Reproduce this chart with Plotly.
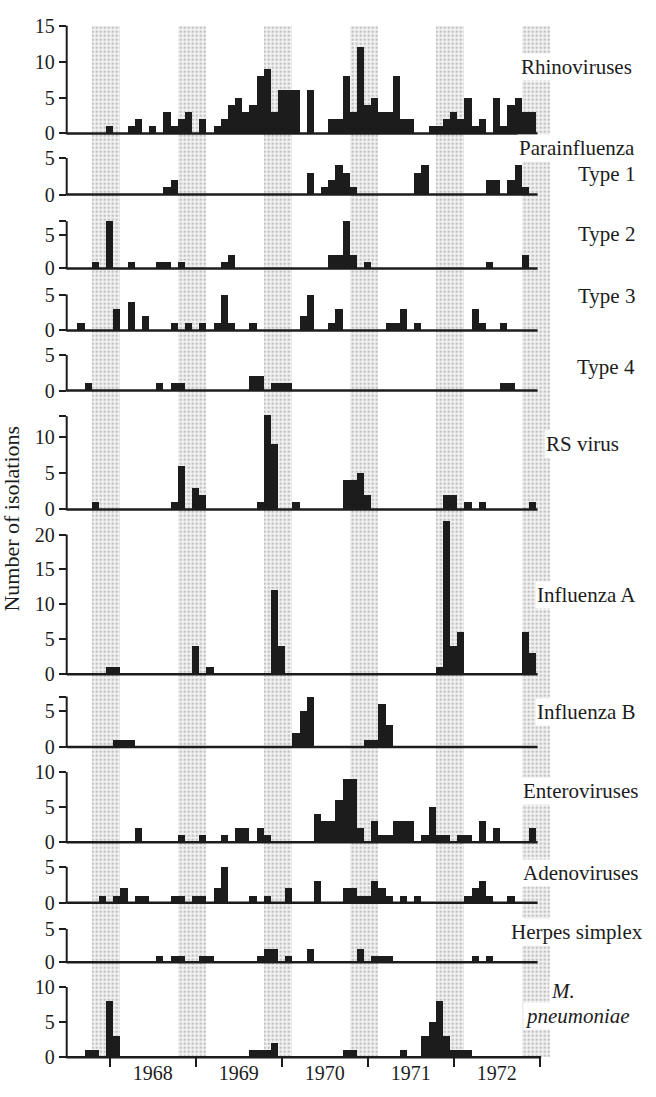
import plotly.graph_objects as go

W, H = 656, 1097

# month index: 0 = January 1968 ; series run from July 1967 (-6) to December 1972 (59)
months = list(range(-6, 60))
year_ticks = [0, 12, 24, 36, 48, 60]
year_label_pos = [6, 18, 30, 42, 54]
year_labels = ['1968', '1969', '1970', '1971', '1972']
winter_centres = [-0.5, 11.5, 23.5, 35.5, 47.5, 59.5]   # Nov-Feb periods (shaded)

#                Jul-Dec 67          1968                         1969                        1970                         1971                        1972
rhinoviruses = [0,0,0,0,0,0,  1,0,0,1,2,0,1,0,3,1,2,3,  0,2,0,1,2,4,5,3,4,8,9,3,  6,6,6,0,6,0,0,2,2,8,3,12, 4,5,3,3,8,2,2,0,0,1,1,2,  3,2,5,1,2,0,5,1,4,5,3,3]
para_type1   = [0,0,0,0,0,0,  0,0,0,0,0,0,0,0,1,2,0,0,  0,0,0,0,0,0,0,0,0,0,0,0,  0,0,0,0,3,0,1,2,4,3,1,0,  0,0,0,0,0,0,0,3,4,0,0,0,  0,0,0,0,0,2,2,0,2,4,1,0]
para_type2   = [0,0,0,0,1,0,  7,0,0,1,0,0,0,1,1,0,1,0,  0,0,0,0,1,2,0,0,0,0,0,0,  0,0,0,0,0,0,0,2,2,7,2,0,  1,0,0,0,0,0,0,0,0,0,0,0,  0,0,0,0,0,1,0,0,0,0,2,0]
para_type3   = [0,0,1,0,0,0,  0,3,0,4,0,2,0,0,0,1,0,1,  0,1,0,1,5,1,0,0,1,0,0,0,  0,0,0,2,5,0,0,1,3,0,0,0,  0,0,0,1,1,3,0,1,0,0,0,0,  0,0,0,3,1,0,0,1,0,0,0,0]
para_type4   = [0,0,0,1,0,0,  0,0,0,0,0,0,0,1,0,1,1,0,  0,0,0,0,0,0,0,0,2,2,0,1,  1,1,0,0,0,0,0,0,0,0,0,0,  0,0,0,0,0,0,0,0,0,0,0,0,  0,0,0,0,0,0,0,1,1,0,0,0]
rs_virus     = [0,0,0,0,1,0,  0,0,0,0,0,0,0,0,0,1,6,0,  3,2,0,0,0,0,0,0,0,1,13,9, 0,0,1,0,0,0,0,0,0,4,4,5,  2,0,0,0,0,0,0,0,0,0,0,2,  2,0,1,0,1,0,0,0,0,0,0,1]
influenza_a  = [0,0,0,0,0,0,  1,1,0,0,0,0,0,0,0,0,0,0,  4,0,1,0,0,0,0,0,0,0,0,12, 4,0,0,0,0,0,0,0,0,0,0,0,  0,0,0,0,0,0,0,0,0,0,1,22, 4,6,0,0,0,0,0,0,0,0,6,3]
influenza_b  = [0,0,0,0,0,0,  0,1,1,1,0,0,0,0,0,0,0,0,  0,0,0,0,0,0,0,0,0,0,0,0,  0,0,2,5,7,0,0,0,0,0,0,0,  1,1,6,3,0,0,0,0,0,0,0,0,  0,0,0,0,0,0,0,0,0,0,0,0]
enteroviruses= [0,0,0,0,0,0,  0,0,0,0,2,0,0,0,0,0,1,0,  0,1,0,0,1,0,2,2,0,2,1,0,  0,0,0,0,0,4,3,3,6,9,9,2,  0,3,1,1,3,3,3,0,1,5,1,1,  0,1,1,0,3,0,2,0,0,0,0,2]
adenoviruses = [0,0,0,0,0,1,  0,1,2,0,1,1,0,0,0,1,1,0,  1,1,0,2,5,0,0,0,1,0,1,0,  0,2,0,0,0,3,0,0,0,2,2,1,  1,3,2,1,0,1,0,1,0,0,0,0,  0,0,1,2,3,1,0,0,1,0,0,0]
herpes       = [0,0,0,0,0,0,  0,0,0,0,0,0,0,1,0,1,1,0,  0,1,1,0,0,0,0,0,0,1,2,2,  0,1,0,0,2,0,0,0,0,0,0,2,  0,1,1,1,0,0,0,0,0,0,0,0,  0,0,0,1,0,1,0,0,0,0,0,0]
m_pneumoniae = [0,0,0,1,1,0,  8,3,0,0,0,0,0,0,0,0,0,0,  0,0,0,0,0,0,0,0,1,1,1,2,  0,0,0,0,0,0,0,0,0,1,1,0,  0,0,0,0,0,1,0,0,3,5,8,3,  1,1,1,0,0,0,0,0,0,0,0,0]

# panel geometry: baseline pixel, pixels per unit, axis top value, tick values
panels = [
    (rhinoviruses,  125.0, 7.33, 15, [0, 5, 10, 15]),
    (para_type1,    187.3, 7.46, 5,  [0, 5]),
    (para_type2,    262.7, 6.88, 7,  [0, 5, 7]),
    (para_type3,    326.0, 7.34, 5,  [0, 5]),
    (para_type4,    387.3, 7.26, 5,  [0, 5]),
    (rs_virus,      508.7, 7.44, 12.8, [0, 5, 10, 12.8]),
    (influenza_a,   676.7, 7.12, 20, [0, 5, 10, 15, 20]),
    (influenza_b,   751.0, 7.34, 7,  [0, 5, 7]),
    (enteroviruses, 848.3, 7.16, 10, [0, 5, 10]),
    (adenoviruses,  910.0, 7.34, 5,  [0, 5]),
    (herpes,        970.7, 6.80, 5,  [0, 5]),
    (m_pneumoniae, 1067.7, 7.17, 10, [0, 5, 10]),
]

labels = [
    ('Rhinoviruses', 57, 634), ('Parainfluenza', 140, 637), ('Type 1', 166, 637),
    ('Type 2', 228, 637), ('Type 3', 291, 637), ('Type 4', 363, 637),
    ('RS virus', 442, 621), ('Influenza A', 596, 638), ('Influenza B', 715, 638),
    ('Enteroviruses', 796, 640), ('Adenoviruses', 880, 640), ('Herpes simplex', 940, 645),
    ('<i>M.</i>', 1000, 577), ('<i>pneumoniae</i>', 1026, 632),
]

FONT = 'Liberation Serif'
INK = '#1c1c1c'
XMIN, XMAX = -6.0, 62.0
PX_PER_MONTH = 7.167
X_LEFT_PX = 66.7
x_dom = [X_LEFT_PX / W, (X_LEFT_PX + (XMAX - XMIN) * PX_PER_MONTH) / W]

fig = go.Figure()

# shaded winter bands on a background subplot
band_top_px, band_bot_px = 15.0, 1067.7
fig.add_trace(go.Bar(
    x=winter_centres, y=[1] * len(winter_centres), width=4,
    xaxis='x', yaxis='y', hoverinfo='skip', showlegend=False,
    marker=dict(color='#ececec', line=dict(width=0),
                pattern=dict(shape='.', fgcolor='#8c8c8c', bgcolor='#f3f3f3', size=4, solidity=0.35)),
))

layout = dict(
    width=W, height=H, margin=dict(l=0, r=0, t=0, b=0),
    paper_bgcolor='white', plot_bgcolor='rgba(0,0,0,0)', showlegend=False,
    bargap=0,
    xaxis=dict(domain=x_dom, range=[XMIN, XMAX], anchor='y13', showgrid=False, zeroline=False,
               showline=False, tickvals=year_label_pos, ticktext=year_labels, ticks='',
               tickfont=dict(family=FONT, size=20, color=INK), ticklabelstandoff=2,
               minor=dict(tickvals=year_ticks, ticks='outside', ticklen=9, tickwidth=2, tickcolor=INK)),
    yaxis=dict(domain=[1 - band_bot_px / H, 1 - band_top_px / H], range=[0, 1], visible=False),
)

shapes = []
for i, (counts, base, ppu, top, tv) in enumerate(panels):
    ax = i + 2
    rmax = max(top, max(counts) + 0.6)
    b = 1 - base / H
    t = b + rmax * ppu / H
    fig.add_trace(go.Bar(x=months, y=counts, width=1, xaxis='x', yaxis=f'y{ax}',
                         marker=dict(color=INK, line=dict(width=0)), hoverinfo='skip'))
    layout[f'yaxis{ax}'] = dict(
        domain=[b, t], range=[0, rmax], anchor='x', showgrid=False, zeroline=False, showline=False,
        tickvals=tv, ticktext=[('' if (v != int(v) or (v == top and v not in (5, 10, 15, 20))) else str(int(v))) for v in tv],
        ticks='outside', ticklen=7, tickwidth=2, tickcolor=INK,
        tickfont=dict(family=FONT, size=20, color=INK))
    # vertical axis line up to the axis top
    shapes.append(dict(type='line', xref='paper', yref='paper', x0=x_dom[0], x1=x_dom[0],
                       y0=b - 1 / H, y1=b + top * ppu / H, line=dict(color=INK, width=2)))
    # baseline
    shapes.append(dict(type='line', xref='x', yref='paper', x0=XMIN, x1=(60.2 if i == len(panels) - 1 else 59.7),
                       y0=b, y1=b, line=dict(color=INK, width=2.5)))

layout['shapes'] = shapes

ann = []
for text, yc, xr in labels:
    ann.append(dict(text=text, xref='paper', yref='paper', x=xr / W, y=1 - yc / H,
                    xanchor='right', yanchor='middle', showarrow=False, bgcolor='white', borderpad=1,
                    font=dict(family=FONT, size=21, color=INK)))
ann.append(dict(text='Number of isolations', xref='paper', yref='paper', x=12 / W, y=1 - 518 / H,
                textangle=-90, xanchor='center', yanchor='middle', showarrow=False,
                font=dict(family=FONT, size=22, color=INK)))
layout['annotations'] = ann

fig.update_layout(**layout)
fig.write_html('out.html', config={'displayModeBar': False, 'staticPlot': True},
               post_script="document.body.style.margin='0';")
